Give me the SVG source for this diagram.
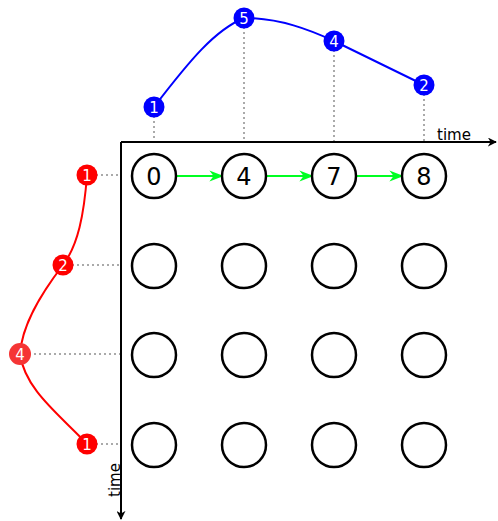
<svg xmlns="http://www.w3.org/2000/svg" width="498" height="521" viewBox="0 0 498 521">
<defs>
<style>
.node{fill:#fff;stroke:#000;stroke-width:2.5}
.nlab{font-family:"DejaVu Sans",sans-serif;font-size:24px;text-anchor:middle;fill:#000}
.dlab{font-family:"DejaVu Sans",sans-serif;font-size:15px;text-anchor:middle;fill:#fff}
.dot{stroke:none}
.guide{stroke:#aaa;stroke-width:2;stroke-dasharray:2,3;fill:none}
.axis{stroke:#000;stroke-width:2;fill:none}
.flow{stroke:#00ff22;stroke-width:2;fill:none}
.axlab{font-family:"DejaVu Sans",sans-serif;font-size:15px;fill:#000}
</style>
<marker id="ah" viewBox="0 0 10 10" refX="9" refY="5" markerWidth="9" markerHeight="9" markerUnits="userSpaceOnUse" orient="auto">
<path d="M0,0 L10,5 L0,10 L3,5 Z" fill="#000"/>
</marker>
<marker id="gh" viewBox="0 0 10 10" refX="9" refY="5" markerWidth="14" markerHeight="14" markerUnits="userSpaceOnUse" orient="auto">
<path d="M0,1 L10,5 L0,9 L3,5 Z" fill="#00ff22"/>
</marker>
</defs>
<g id="guides">
<line class="guide" x1="154" y1="116" x2="154" y2="142"/>
<line class="guide" x1="244" y1="27" x2="244" y2="142"/>
<line class="guide" x1="334" y1="50" x2="334" y2="142"/>
<line class="guide" x1="424" y1="94" x2="424" y2="142"/>
<line class="guide" x1="96" y1="175" x2="121" y2="175"/>
<line class="guide" x1="72" y1="265" x2="121" y2="265"/>
<line class="guide" x1="29" y1="354" x2="121" y2="354"/>
<line class="guide" x1="96" y1="444" x2="121" y2="444"/>
</g>
<g id="connectors">
<path d="M121,142 H496" class="axis" marker-end="url(#ah)"/>
<path d="M121,142 V519" class="axis" marker-end="url(#ah)"/>
<path d="M154,107 C190,60 215,30 244,18 C280,18 310,30 334,41 L424,85" stroke="#0000ff" stroke-width="2" fill="none"/>
<path d="M87,175 C84,215 78,245 63,265 C40,295 22,325 20,354 C25,390 60,415 87,444" stroke="#ff0000" stroke-width="2" fill="none"/>
<line class="flow" x1="176" y1="176" x2="222" y2="176" marker-end="url(#gh)"/>
<line class="flow" x1="266" y1="176" x2="312" y2="176" marker-end="url(#gh)"/>
<line class="flow" x1="356" y1="176" x2="402" y2="176" marker-end="url(#gh)"/>
</g>
<g id="axis-labels">
<text class="axlab" x="437" y="140">time</text>
<text class="axlab" transform="translate(120,480) rotate(-90)" text-anchor="middle">time</text>
</g>
<g id="n00"><circle class="node" cx="154" cy="176" r="22"/><text class="nlab" x="154" y="185">0</text></g>
<g id="n01"><circle class="node" cx="244" cy="176" r="22"/><text class="nlab" x="244" y="185">4</text></g>
<g id="n02"><circle class="node" cx="334" cy="176" r="22"/><text class="nlab" x="334" y="185">7</text></g>
<g id="n03"><circle class="node" cx="424" cy="176" r="22"/><text class="nlab" x="424" y="185">8</text></g>
<g id="n10"><circle class="node" cx="154" cy="266" r="22"/></g>
<g id="n11"><circle class="node" cx="244" cy="266" r="22"/></g>
<g id="n12"><circle class="node" cx="334" cy="266" r="22"/></g>
<g id="n13"><circle class="node" cx="424" cy="266" r="22"/></g>
<g id="n20"><circle class="node" cx="154" cy="355" r="22"/></g>
<g id="n21"><circle class="node" cx="244" cy="355" r="22"/></g>
<g id="n22"><circle class="node" cx="334" cy="355" r="22"/></g>
<g id="n23"><circle class="node" cx="424" cy="355" r="22"/></g>
<g id="n30"><circle class="node" cx="154" cy="445" r="22"/></g>
<g id="n31"><circle class="node" cx="244" cy="445" r="22"/></g>
<g id="n32"><circle class="node" cx="334" cy="445" r="22"/></g>
<g id="n33"><circle class="node" cx="424" cy="445" r="22"/></g>
<g id="b1"><circle class="dot" fill="#0000ff" cx="154" cy="107" r="10.5"/><text class="dlab" x="154" y="112.5">1</text></g>
<g id="b2"><circle class="dot" fill="#0000ff" cx="244" cy="18" r="10.5"/><text class="dlab" x="244" y="23.5">5</text></g>
<g id="b3"><circle class="dot" fill="#0000ff" cx="334" cy="41" r="10.5"/><text class="dlab" x="334" y="46.5">4</text></g>
<g id="b4"><circle class="dot" fill="#0000ff" cx="424" cy="85" r="10.5"/><text class="dlab" x="424" y="90.5">2</text></g>
<g id="r1"><circle class="dot" fill="#ff0000" cx="87" cy="175" r="10.5"/><text class="dlab" x="87" y="180.5">1</text></g>
<g id="r2"><circle class="dot" fill="#ff0000" cx="63" cy="265" r="10.5"/><text class="dlab" x="63" y="270.5">2</text></g>
<g id="r3"><circle class="dot" fill="#f53535" cx="20" cy="354" r="11"/><text class="dlab" x="20" y="359.5">4</text></g>
<g id="r4"><circle class="dot" fill="#ff0000" cx="87" cy="444" r="10.5"/><text class="dlab" x="87" y="449.5">1</text></g>
</svg>
